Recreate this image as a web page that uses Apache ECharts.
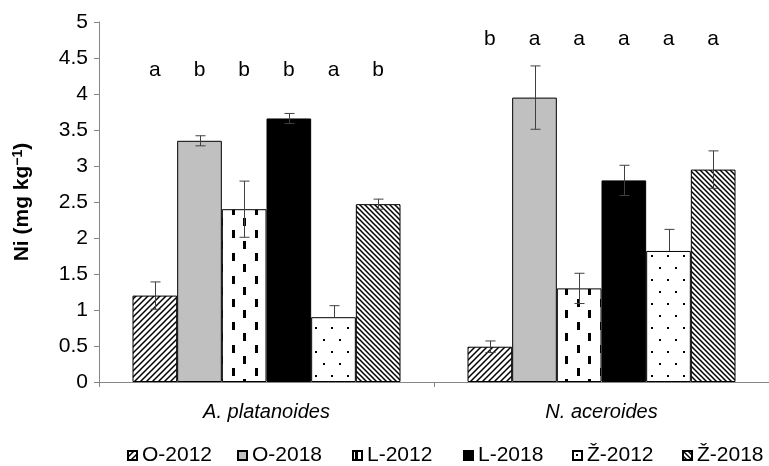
<!DOCTYPE html>
<html>
<head>
<meta charset="utf-8">
<script src="https://cdn.jsdelivr.net/npm/echarts@6/dist/echarts.min.js"></script>
<style>html,body{margin:0;padding:0;background:#fff}#c{width:769px;height:466px}</style>
</head>
<body>
<div id="c"></div>
<script>
// ---- data ----
const categories = ['A. platanoides', 'N. aceroides'];
const seriesNames = ['O-2012', 'O-2018', 'L-2012', 'L-2018', 'Ž-2012', 'Ž-2018'];
const O2012 = [1.20, 0.49];
const O2018 = [3.35, 3.95];
const L2012 = [2.40, 1.30];
const L2018 = [3.66, 2.80];
const Z2012 = [0.90, 1.82];
const Z2018 = [2.47, 2.95];
const errO2012 = [0.19, 0.08];
const errO2018 = [0.07, 0.44];
const errL2012 = [0.39, 0.21];
const errL2018 = [0.07, 0.21];
const errZ2012 = [0.16, 0.30];
const errZ2018 = [0.07, 0.26];
const showLowerErr = [true, true, true, true, false, true];
const lettersA = ['a', 'b', 'b', 'b', 'a', 'b'];
const lettersN = ['b', 'a', 'a', 'a', 'a', 'a'];
const letterLevel = [4.33, 4.76];
const yTicks = { min: 0, max: 5, interval: 0.5 };

const values = [O2012, O2018, L2012, L2018, Z2012, Z2018];
const errs = [errO2012, errO2018, errL2012, errL2018, errZ2012, errZ2018];
const letters = [lettersA, lettersN];

// ---- patterns ----
function pat(w, h, draw) {
  const c = document.createElement('canvas');
  c.width = w; c.height = h;
  const g = c.getContext('2d');
  g.fillStyle = '#fff'; g.fillRect(0, 0, w, h);
  g.fillStyle = '#000'; g.strokeStyle = '#000';
  draw(g);
  return { image: c, repeat: 'repeat' };
}
const upDiag = pat(6, 6, g => {
  g.lineWidth = 1.5; g.beginPath();
  g.moveTo(0, 6); g.lineTo(6, 0);
  g.moveTo(-1, 1); g.lineTo(1, -1);
  g.moveTo(5, 7); g.lineTo(7, 5);
  g.stroke();
});
const downDiag = pat(5, 5, g => {
  g.lineWidth = 1.5; g.beginPath();
  g.moveTo(0, 0); g.lineTo(5, 5);
  g.moveTo(-1, 4); g.lineTo(1, 6);
  g.moveTo(4, -1); g.lineTo(6, 1);
  g.stroke();
});
const dashes = pat(23, 23, g => {
  g.fillRect(2, 0, 3, 8);
  g.fillRect(13, 11, 3, 8);
});
const dots = pat(16, 24, g => {
  g.fillRect(3, 3, 2, 2);
  g.fillRect(11, 15, 2, 2);
});
const fills = [upDiag, '#c0c0c0', dashes, '#000000', dots, downDiag];

const FONT = "'Liberation Sans', Arial, sans-serif";
const GAP = 0.2;

const barSeries = seriesNames.map((n, i) => ({
  name: n,
  type: 'bar',
  data: values[i],
  barGap: '0%',
  barCategoryGap: (GAP * 100) + '%',
  itemStyle: { color: fills[i], borderColor: '#000', borderWidth: 1 },
  emphasis: { disabled: true },
  animation: false
}));

function barX(api, cat, s) {
  const c = api.coord([cat, 0])[0];
  const band = api.size([1, 0])[0];
  const bw = band * (1 - GAP) / 6;
  return c + (s - 2.5) * bw;
}

const errData = [];
const letterData = [];
for (let s = 0; s < 6; s++) {
  for (let k = 0; k < categories.length; k++) {
    errData.push([k, s, values[s][k], errs[s][k]]);
    letterData.push([k, s, letterLevel[k]]);
  }
}

const errorSeries = {
  type: 'custom',
  name: 'err',
  coordinateSystem: 'cartesian2d',
  data: errData,
  encode: { x: 0, y: 2 },
  z: 10,
  silent: true,
  animation: false,
  renderItem: function (params, api) {
    const k = api.value(0), s = api.value(1), v = api.value(2), e = api.value(3);
    const x = Math.round(barX(api, k, s)) + 0.5;
    const yTop = api.coord([k, v + e])[1];
    const yBot = showLowerErr[s] ? api.coord([k, v - e])[1] : api.coord([k, v])[1];
    const st = { stroke: '#404040', lineWidth: 1 };
    const children = [
      { type: 'line', shape: { x1: x, y1: yTop, x2: x, y2: yBot }, style: st },
      { type: 'line', shape: { x1: x - 5, y1: yTop, x2: x + 5, y2: yTop }, style: st }
    ];
    if (showLowerErr[s]) children.push({ type: 'line', shape: { x1: x - 5, y1: yBot, x2: x + 5, y2: yBot }, style: st });
    return { type: 'group', children: children };
  }
};

const letterSeries = {
  type: 'custom',
  name: 'letters',
  coordinateSystem: 'cartesian2d',
  data: letterData,
  encode: { x: 0, y: 2 },
  z: 10,
  silent: true,
  animation: false,
  renderItem: function (params, api) {
    const k = api.value(0), s = api.value(1), lv = api.value(2);
    const x = barX(api, k, s);
    const y = api.coord([k, lv])[1];
    return {
      type: 'text',
      style: { text: letters[k][s], x: x, y: y, align: 'center', verticalAlign: 'middle',
               fontSize: 21, fontFamily: FONT, fill: '#000' }
    };
  }
};

const legendLeft = [122, 232, 347, 458, 567, 677];
const legends = seriesNames.map((n, i) => ({
  data: [{ name: n, icon: 'rect' }],
  left: legendLeft[i],
  top: 440,
  itemWidth: 9,
  itemHeight: 9,
  itemGap: 0,
  selectedMode: false,
  textStyle: { fontSize: 21, color: '#000', fontFamily: FONT }
}));

const chart = echarts.init(document.getElementById('c'), null, { renderer: 'canvas' });
chart.setOption({
  backgroundColor: '#fff',
  animation: false,
  grid: { left: 99, right: -8, top: 22, bottom: 84, containLabel: false },
  legend: legends,
  xAxis: {
    type: 'category',
    data: categories,
    axisLine: { lineStyle: { color: '#868686', width: 1 } },
    axisTick: { show: true, length: 5, lineStyle: { color: '#868686' } },
    axisLabel: { fontSize: 20, fontStyle: 'italic', color: '#000', fontFamily: FONT, margin: 20 },
    splitLine: { show: false }
  },
  yAxis: {
    type: 'value',
    min: yTicks.min, max: yTicks.max, interval: yTicks.interval,
    name: '{a|Ni (mg kg}{b|−1}{a|)}',
    nameLocation: 'middle',
    nameGap: 66,
    nameTextStyle: {
      rich: {
        a: { fontSize: 21, fontWeight: 'bold', fontFamily: FONT, color: '#000' },
        b: { fontSize: 14, fontWeight: 'bold', fontFamily: FONT, color: '#000', padding: [0, 0, 8, 0] }
      }
    },
    axisLine: { show: true, lineStyle: { color: '#868686', width: 1 } },
    axisTick: { show: true, length: 5, lineStyle: { color: '#868686' } },
    axisLabel: { fontSize: 21, color: '#000', fontFamily: FONT, margin: 11 },
    splitLine: { show: false }
  },
  series: barSeries.concat([errorSeries, letterSeries])
});
</script>
</body>
</html>
